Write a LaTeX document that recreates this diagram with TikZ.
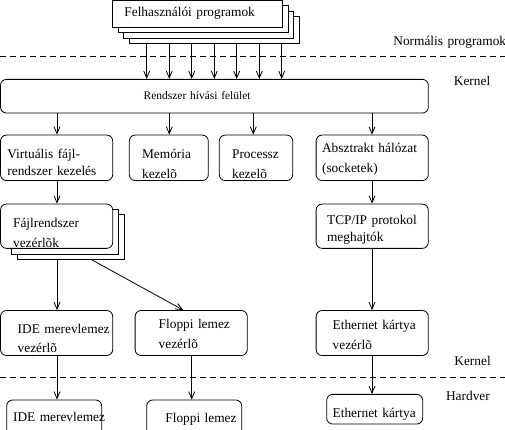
\documentclass[tikz,border=0pt]{standalone}
\usepackage{fontspec}
\setmainfont{Liberation Serif}
\usetikzlibrary{arrows.meta}

\begin{document}
\begin{tikzpicture}[
            x=1bp, y=-1bp, % pixel units, y grows downwards
            -{Straight Barb[length=7bp, width=6bp]}, % arrow head style
            line width=0.8bp, % line style
            box/.style={draw, rectangle, rounded corners=6bp, fill=white,
              inner sep=0pt, minimum width=112.2bp, minimum height=45bp},
            stack/.style={draw, rectangle, fill=white, inner sep=0pt},
            txt/.style={anchor=base west, inner sep=0pt, align=left,
              text width=250bp, font=\fontsize{13.4}{20}\selectfont},
            layer/.style={-, dash pattern=on 6bp off 4bp}
            ]
            \clip (0,0) rectangle (505,429);

            % user programs (stacked)
            \node[stack, minimum width=170bp, minimum height=27.3bp] (4) at (214.2,30.2) {};
            \node[stack, minimum width=170bp, minimum height=27.3bp] (3) at (208.7,24.7) {};
            \node[stack, minimum width=170bp, minimum height=27.3bp] (2) at (203.2,19.2) {};
            \node[stack, minimum width=170bp, minimum height=27.3bp] (1) at (197.7,13.7) {};
            \node[txt] (t1) at (124,16.7) {Felhasználói programok};

            \node[box, minimum width=427.8bp, minimum height=33.7bp] (5) at (214.4,96.2) {};
            \node[txt, font=\fontsize{11.5}{14}\selectfont] (t5) at (143.3,99.3) {Rendszer hívási felület};

            \node[box, minimum height=45.5bp] (6) at (56.6,157.8) {};
            \node[box, minimum width=79bp, minimum height=45.5bp] (7) at (168.8,157.8) {};
            \node[box, minimum width=73.4bp, minimum height=45.5bp] (8) at (256,157.8) {};
            \node[box, minimum height=45.5bp] (9) at (372.2,157.8) {};
            \node[txt] (t6) at (7,158.5) {Virtuális fájl-\\[-2.7bp]rendszer kezelés};
            \node[txt] (t7) at (141.7,158.3) {Memória\\kezelõ};
            \node[txt] (t8) at (231.7,158.3) {Processz\\kezelõ};
            \node[txt] (t9) at (321.7,152.3) {Absztrakt hálózat\\(socketek)};

            % file system drivers (stacked)
            \node[stack, minimum width=107bp, minimum height=45.3bp] (12) at (70.8,236.7) {};
            \node[stack, minimum width=106.6bp, minimum height=45bp] (11) at (65,231.5) {};
            \node[box, minimum height=44.3bp] (10) at (56.6,226.2) {};
            \node[box, minimum height=44.3bp] (13) at (372.2,226.2) {};
            \node[txt] (t10) at (12.7,227.3) {Fájlrendszer\\vezérlõk};
            \node[txt] (t13) at (326.7,224.3) {TCP/IP protokol\\[-2.6bp]meghajtók};

            \node[box] (14) at (56.6,333) {};
            \node[box] (15) at (191.2,333) {};
            \node[box] (16) at (372.2,333) {};
            \node[txt] (t14) at (17.3,333.3) {IDE merevlemez\\[-0.6bp]vezérlõ};
            \node[txt] (t15) at (158.3,328.3) {Floppi lemez\\vezérlõ};
            \node[txt] (t16) at (332.3,329.3) {Ethernet kártya\\vezérlõ};

            \node[box, minimum width=95bp, minimum height=40bp] (17) at (54.2,420) {};
            \node[box, minimum width=95bp, minimum height=40bp] (18) at (194.2,420) {};
            \node[box, minimum width=96bp, minimum height=29.7bp] (19) at (374.7,409.2) {};
            \node[txt] (t17) at (12.7,421.7) {IDE merevlemez};
            \node[txt] (t18) at (165,422) {Floppi lemez};
            \node[txt] (t19) at (332.3,417.3) {Ethernet kártya};

            % layers
            \draw[layer] (0,56.7) -- (505,56.7);
            \draw[layer] (0,377.7) -- (505,377.7);
            \node[txt] (n1) at (393,45) {Normális programok};
            \node[txt] (n2) at (453.5,85) {Kernel};
            \node[txt] (n3) at (454,365) {Kernel};
            \node[txt] (n4) at (445.7,400) {Hardver};

            \foreach \x in {146.7,169.3,191.7,214.3,236.7,259.3,281.7}
              \draw (\x,0 |- 4.south) -- (\x,0 |- 5.north);
            \draw (57,0 |- 5.south) -- (57,0 |- 6.north);
            \draw (169.3,0 |- 5.south) -- (169.3,0 |- 7.north);
            \draw (253.3,0 |- 5.south) -- (253.3,0 |- 8.north);
            \draw (372,0 |- 5.south) -- (372,0 |- 9.north);
            \draw (57,0 |- 6.south) -- (57,0 |- 10.north);
            \draw (372,0 |- 9.south) -- (372,0 |- 13.north);
            \draw (57,0 |- 12.south) -- (57,0 |- 14.north);
            \draw (91.7,0 |- 12.south) -- (183.3,0 |- 15.north);
            \draw (372,0 |- 13.south) -- (372,0 |- 16.north);
            \draw (57,0 |- 14.south) -- (57,0 |- 17.north);
            \draw (191.7,0 |- 15.south) -- (191.7,0 |- 18.north);
            \draw (372,0 |- 16.south) -- (372,0 |- 19.north);
            % \draw (57,0 |- 10.south) -- (57,0 |- 14.north);
        \end{tikzpicture}
\end{document}
